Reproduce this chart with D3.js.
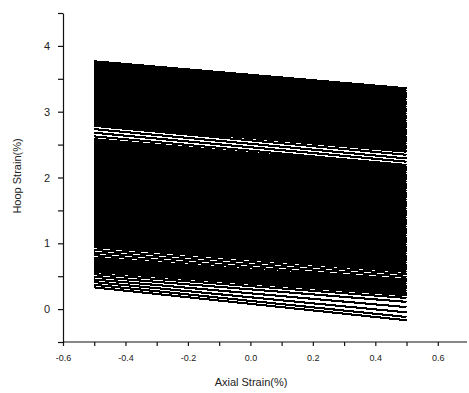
<!DOCTYPE html>
<html>
<head>
<meta charset="utf-8">
<script src="https://cdn.jsdelivr.net/npm/d3@7"></script>
<style>
  html, body { margin: 0; padding: 0; background: #fff; }
  svg { display: block; }
</style>
</head>
<body>
<svg id="chart" width="469" height="393"></svg>
<script>
// Axial strain (%) at which each curve starts and ends
const axialStrain = [-0.5, 0.5];

// Hoop strain (%) of each curve at axial -0.5 (start) and +0.5 (end)
const upperBandStart = [3.76, 3.725, 3.69, 3.655, 3.62, 3.585, 3.55, 3.515, 3.48, 3.445, 3.41, 3.375, 3.34, 3.305, 3.27, 3.235, 3.20, 3.165, 3.13, 3.095, 3.06, 3.025, 2.99, 2.955, 2.92, 2.885, 2.85, 2.815];
const upperBandEnd   = [3.35, 3.315, 3.28, 3.245, 3.21, 3.175, 3.14, 3.105, 3.07, 3.035, 3.0, 2.965, 2.93, 2.894, 2.858, 2.823, 2.788, 2.753, 2.718, 2.682, 2.647, 2.612, 2.577, 2.541, 2.506, 2.47, 2.434, 2.398];

const upperGapStart = [2.785, 2.735, 2.68, 2.625];
const upperGapEnd   = [2.345, 2.29, 2.24, 2.19];

const mainBandStart = [0.975, 1.01, 1.045, 1.08, 1.115, 1.15, 1.185, 1.22, 1.255, 1.29, 1.325, 1.36, 1.395, 1.43, 1.465, 1.50, 1.535, 1.57, 1.605, 1.64, 1.675, 1.71, 1.745, 1.78, 1.815, 1.85, 1.885, 1.92, 1.955, 1.99, 2.025, 2.06, 2.095, 2.13, 2.165, 2.20, 2.235, 2.27, 2.305, 2.34, 2.375, 2.41, 2.445, 2.48, 2.515, 2.55, 2.575];
const mainBandEnd   = [0.595, 0.629, 0.663, 0.698, 0.732, 0.766, 0.80, 0.835, 0.869, 0.903, 0.937, 0.972, 1.006, 1.04, 1.074, 1.109, 1.143, 1.177, 1.211, 1.246, 1.28, 1.314, 1.348, 1.383, 1.417, 1.451, 1.485, 1.52, 1.554, 1.588, 1.622, 1.657, 1.691, 1.725, 1.759, 1.794, 1.828, 1.862, 1.896, 1.931, 1.965, 1.999, 2.033, 2.068, 2.102, 2.136, 2.16];

const middleGapStart = [0.82, 0.86, 0.90, 0.94];
const middleGapEnd   = [0.45, 0.49, 0.53, 0.565];

const lowerBandStart = [0.60, 0.635, 0.67, 0.705, 0.74, 0.775];
const lowerBandEnd   = [0.24, 0.275, 0.31, 0.345, 0.38, 0.415];

const bottomStart = [0.33, 0.37, 0.41, 0.45, 0.49, 0.53, 0.565];
const bottomEnd   = [-0.17, -0.12, -0.05, 0.03, 0.11, 0.17, 0.21];

// Tick values
const xTicks = [-0.6, -0.5, -0.4, -0.3, -0.2, -0.1, 0.0, 0.1, 0.2, 0.3, 0.4, 0.5, 0.6];
const xTickLabels = ["-0.6", "", "-0.4", "", "-0.2", "", "0.0", "", "0.2", "", "0.4", "", "0.6"];
const yTicks = [-0.5, 0, 0.5, 1, 1.5, 2, 2.5, 3, 3.5, 4, 4.5];
const yTickLabels = ["", "0", "", "1", "", "2", "", "3", "", "4", ""];

const xTitle = "Axial Strain(%)";
const yTitle = "Hoop Strain(%)";

// ---------- drawing ----------
const svg = d3.select("#chart");
const x = d3.scaleLinear().domain([-0.6, 0.7]).range([63, 469]);
const y = d3.scaleLinear().domain([-0.5, 4.5]).range([342, 13]);

const denseWidth = 2.9, sparseWidth = 2.1;
const groups = [
  [upperBandStart, upperBandEnd, denseWidth],
  [upperGapStart, upperGapEnd, sparseWidth],
  [mainBandStart, mainBandEnd, denseWidth],
  [middleGapStart, middleGapEnd, sparseWidth],
  [lowerBandStart, lowerBandEnd, denseWidth],
  [bottomStart, bottomEnd, sparseWidth]
];
const curves = [];
groups.forEach(([s, e, w]) => s.forEach((v, i) => curves.push({w, pts: [[axialStrain[0], v], [axialStrain[1], e[i]]]})));

const line = d3.line().x(d => x(d[0])).y(d => y(d[1]));
svg.append("g")
  .selectAll("path")
  .data(curves)
  .join("path")
  .attr("d", d => line(d.pts))
  .attr("fill", "none")
  .attr("stroke", "#000")
  .attr("stroke-width", d => d.w)
  .attr("shape-rendering", "crispEdges");

const fontFamily = "'Liberation Sans', Arial, sans-serif";

const xAxis = d3.axisBottom(x)
  .tickValues(xTicks)
  .tickFormat((d, i) => xTickLabels[i])
  .tickSize(4)
  .tickSizeOuter(0)
  .tickPadding(9);
const gx = svg.append("g").attr("transform", `translate(0,${y(-0.5)})`).call(xAxis);
gx.select(".domain").attr("stroke", "#111").attr("stroke-width", 1.2).attr("d", `M${x(-0.6)},0H467`);
gx.selectAll(".tick line").attr("stroke", "#111").attr("stroke-width", 1.2);
gx.selectAll("text").attr("font-family", fontFamily).attr("font-size", 9).attr("fill", "#222");

const yAxis = d3.axisLeft(y)
  .tickValues(yTicks)
  .tickFormat((d, i) => yTickLabels[i])
  .tickSize(5)
  .tickSizeOuter(0)
  .tickPadding(8);
const gy = svg.append("g").attr("transform", `translate(${x(-0.6)},0)`).call(yAxis);
gy.select(".domain").attr("stroke", "#111").attr("stroke-width", 1.2);
gy.selectAll(".tick line").attr("stroke", "#111").attr("stroke-width", 1.2);
gy.selectAll("text").attr("font-family", fontFamily).attr("font-size", 11).attr("fill", "#222");

svg.append("text")
  .attr("x", 251).attr("y", 386)
  .attr("text-anchor", "middle")
  .attr("font-family", fontFamily).attr("font-size", 11).attr("fill", "#222")
  .text(xTitle);

svg.append("text")
  .attr("transform", "translate(21,176) rotate(-90)")
  .attr("text-anchor", "middle")
  .attr("font-family", fontFamily).attr("font-size", 11).attr("fill", "#222")
  .text(yTitle);
</script>
</body>
</html>
